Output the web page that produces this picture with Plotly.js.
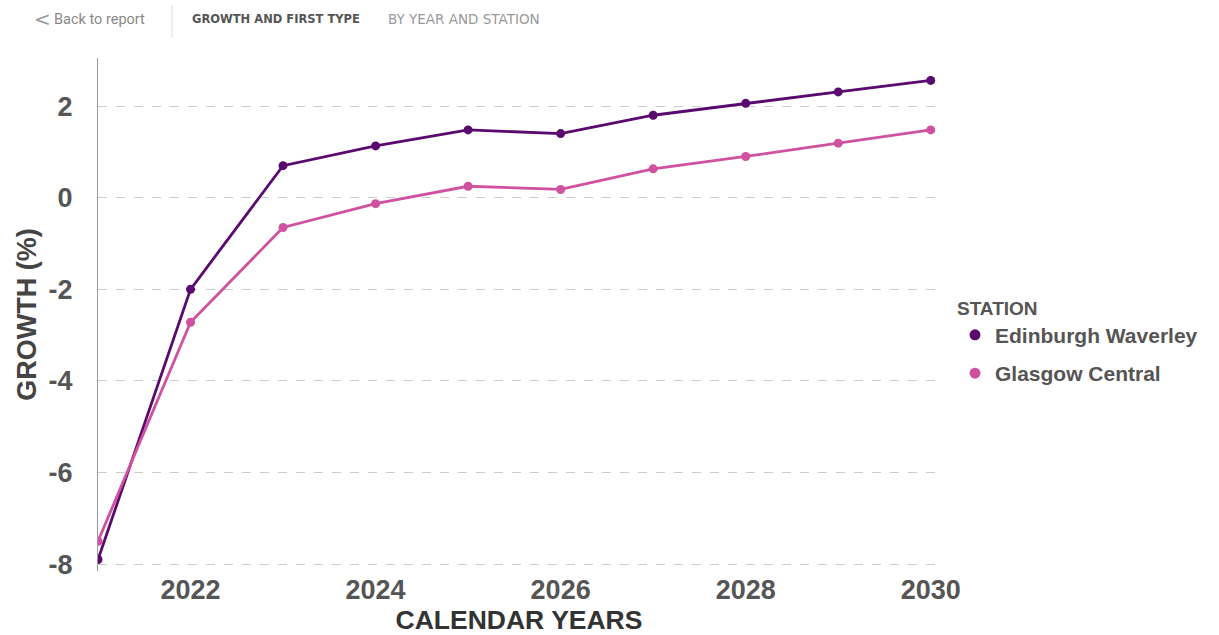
<!DOCTYPE html>
<html>
<head>
<meta charset="utf-8">
<script src="https://cdn.plot.ly/plotly-3.0.1.min.js"></script>
<style>
  html, body { margin: 0; padding: 0; background: #ffffff; }
  #chart { width: 1219px; height: 635px; }
</style>
</head>
<body>
<div id="chart"></div>
<script>
const years = [2021, 2022, 2023, 2024, 2025, 2026, 2027, 2028, 2029, 2030];
const edinburghWaverley = [-7.9, -2.0, 0.7, 1.13, 1.48, 1.4, 1.8, 2.06, 2.31, 2.56];
const glasgowCentral = [-7.5, -2.72, -0.65, -0.13, 0.25, 0.18, 0.63, 0.9, 1.19, 1.48];
const seriesNames = ['Edinburgh Waverley', 'Glasgow Central'];
const xTickValues = [2022, 2024, 2026, 2028, 2030];
const yTickValues = [-8, -6, -4, -2, 0, 2];
const yTickLabels = ['-8', '-6', '-4', '-2', '0', '2'];

const colEd = '#5a0a6e';
const colGl = '#cf519f';
const colors = [colEd, colGl];
const seriesValues = [edinburghWaverley, glasgowCentral];

const traces = [];
// plotted series (legend handled by marker-only legend entries below)
seriesValues.forEach((vals, i) => {
  traces.push({
    x: years, y: vals, name: seriesNames[i],
    type: 'scatter', mode: 'lines+markers',
    line: { color: colors[i], width: 2.8 },
    marker: { color: colors[i], size: 9 },
    showlegend: false, legendgroup: 'g' + i
  });
});
// legend entries: dot only, like the reference legend
seriesNames.forEach((name, i) => {
  traces.push({
    x: [null], y: [null], name: name,
    type: 'scatter', mode: 'markers',
    marker: { color: colors[i], size: 11 },
    showlegend: true, legendgroup: 'g' + i, hoverinfo: 'skip'
  });
});

const TOP = 58, BOT = 64, PH = 635 - TOP - BOT, L = 98, R = 279, PW = 1219 - L - R;
const px = v => (v - L) / PW;
const py = v => (635 - BOT - v) / PH;

const layout = {
  width: 1219, height: 635,
  paper_bgcolor: '#ffffff', plot_bgcolor: '#ffffff',
  margin: { l: L, r: R, t: TOP, b: BOT },
  showlegend: true,
  font: { family: 'Liberation Sans, Arial, sans-serif', color: '#555555' },
  xaxis: {
    range: [2021, 2030.1],
    tickvals: xTickValues,
    ticktext: xTickValues.map(String),
    showgrid: false, zeroline: false, showline: false,
    ticks: '', automargin: false, ticklabelstandoff: 0,
    tickfont: { family: 'Liberation Sans, Arial, sans-serif', size: 27, color: '#555555', weight: 'bold' },
    title: { text: 'CALENDAR YEARS', standoff: 6,
      font: { family: 'Liberation Sans, Arial, sans-serif', size: 26.5, color: '#333333', weight: 'bold' } }
  },
  yaxis: {
    range: [-8.15, 3.05],
    tickvals: yTickValues,
    ticktext: yTickLabels,
    showgrid: true, gridcolor: '#cccccc', gridwidth: 1, griddash: 'dash',
    zeroline: false, automargin: false,
    showline: true, linecolor: '#999999', linewidth: 1,
    ticks: '', ticklabelstandoff: 19,
    tickfont: { family: 'Liberation Sans, Arial, sans-serif', size: 27, color: '#555555', weight: 'bold' },
    title: { text: 'GROWTH (%)', standoff: 4,
      font: { family: 'Liberation Sans, Arial, sans-serif', size: 27, color: '#444444', weight: 'bold' } }
  },
  legend: {
    x: px(955), xanchor: 'left', y: py(290), yanchor: 'top',
    itemwidth: 30, tracegroupgap: 8,
    title: { text: 'STATION', font: { family: 'Liberation Sans, Arial, sans-serif', size: 19, color: '#555555', weight: 'bold' } },
    font: { family: 'Liberation Sans, Arial, sans-serif', size: 21, color: '#555555', weight: 'bold' }
  },
  shapes: [
    { type: 'line', xref: 'paper', yref: 'paper',
      x0: px(172), x1: px(172), y0: py(5), y1: py(38),
      line: { color: '#dddddd', width: 1 } }
  ],
  annotations: [
    { xref: 'paper', yref: 'paper', x: px(32), y: py(19),
      xanchor: 'left', yanchor: 'middle', showarrow: false,
      text: '<', font: { family: 'DejaVu Sans, sans-serif', size: 20, color: '#999999' } },
    { xref: 'paper', yref: 'paper', x: px(52), y: py(19),
      xanchor: 'left', yanchor: 'middle', showarrow: false,
      text: 'Back to report', font: { family: 'Roboto, Liberation Sans, sans-serif', size: 14.5, color: '#888888' } },
    { xref: 'paper', yref: 'paper', x: px(190), y: py(19),
      xanchor: 'left', yanchor: 'middle', showarrow: false,
      text: 'GROWTH AND FIRST TYPE', font: { family: 'DejaVu Sans, sans-serif', size: 11.5, color: '#555555', weight: 'bold' } },
    { xref: 'paper', yref: 'paper', x: px(386), y: py(19),
      xanchor: 'left', yanchor: 'middle', showarrow: false,
      text: 'BY YEAR AND STATION', font: { family: 'DejaVu Sans, sans-serif', size: 13.5, color: '#999999' } }
  ]
};

Plotly.newPlot('chart', traces, layout, { displayModeBar: false, responsive: false });
</script>
</body>
</html>
